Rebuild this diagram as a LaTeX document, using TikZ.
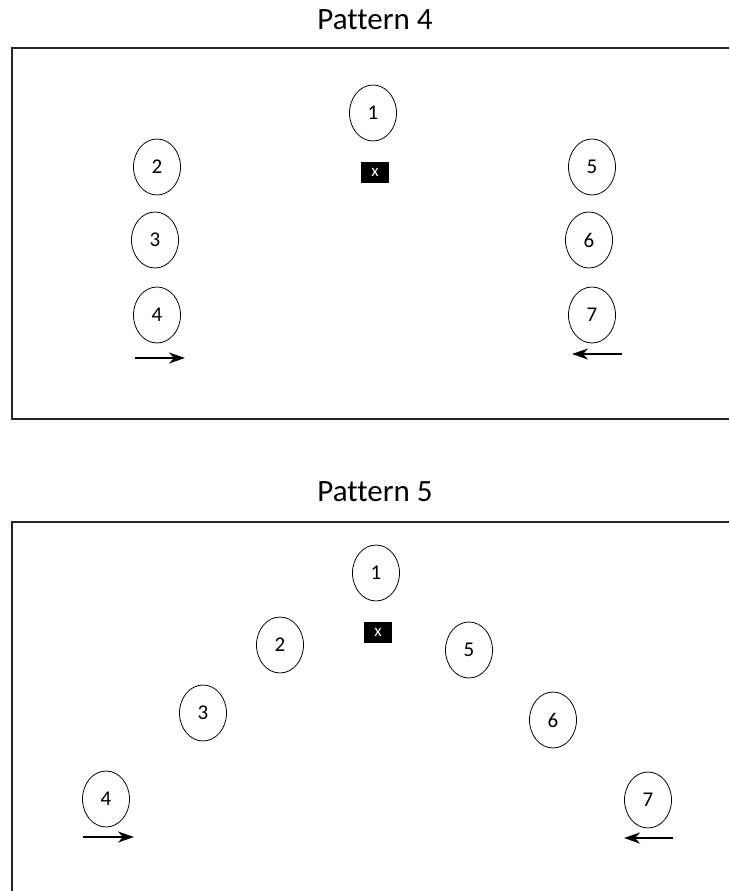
\documentclass[tikz,border=0pt]{standalone}
\usepackage{fontspec}
\setmainfont{Carlito}[Ligatures=NoCommon]
\usetikzlibrary{shapes.geometric,arrows.meta}
\tikzset{
  player/.style={draw=black, line width=0.8pt, ellipse, minimum width=47pt, minimum height=56pt, inner sep=0pt, font=\fontsize{21}{21}\selectfont},
  ball/.style={fill=black, minimum width=28pt, minimum height=21pt, inner sep=0pt, text=white, font=\fontsize{17}{17}\selectfont},
  title/.style={font=\fontsize{31}{31}\selectfont, inner sep=0pt},
  frame/.style={draw=black!85, line width=1.3pt},
  move/.style={line width=2pt, -{Stealth[length=16pt,width=11pt,inset=5pt]}}
}
\begin{document}
\begin{tikzpicture}[x=1pt, y=-1pt]
\useasboundingbox (0,0) rectangle (729,891);
% Pattern 4
\node[title] (t4) at (375,20) {Pattern 4};
\draw[frame] (729,48) -- (12,48) -- (12,419) -- (729,419);
\node[player] (a1) at (373,113) {1};
\node[ball] (ax) at (375,172) {x};
\node[player] (a2) at (157,167) {2};
\node[player] (a3) at (155,240) {3};
\node[player] (a4) at (157,315) {4};
\node[player] (a5) at (592,167) {5};
\node[player] (a6) at (589,240) {6};
\node[player] (a7) at (592,315) {7};
\coordinate (a4s) at (135,358);
\coordinate (a4e) at (185,358);
\coordinate (a7s) at (622,354);
\coordinate (a7e) at (572,354);
\draw[move] (a4s) -- (a4e);
\draw[move] (a7s) -- (a7e);
% Pattern 5
\node[title] (t5) at (375,492) {Pattern 5};
\draw[frame] (729,522) -- (12,522) -- (12,891);
\node[player] (b1) at (376,573) {1};
\node[ball] (bx) at (378,632) {x};
\node[player] (b2) at (280,645) {2};
\node[player] (b3) at (203,713) {3};
\node[player] (b4) at (106,799) {4};
\node[player] (b5) at (469,650) {5};
\node[player] (b6) at (553,720) {6};
\node[player] (b7) at (648,800) {7};
\coordinate (b4s) at (83,837);
\coordinate (b4e) at (134,837);
\coordinate (b7s) at (673,838);
\coordinate (b7e) at (624,838);
\draw[move] (b4s) -- (b4e);
\draw[move] (b7s) -- (b7e);
\end{tikzpicture}
\end{document}
